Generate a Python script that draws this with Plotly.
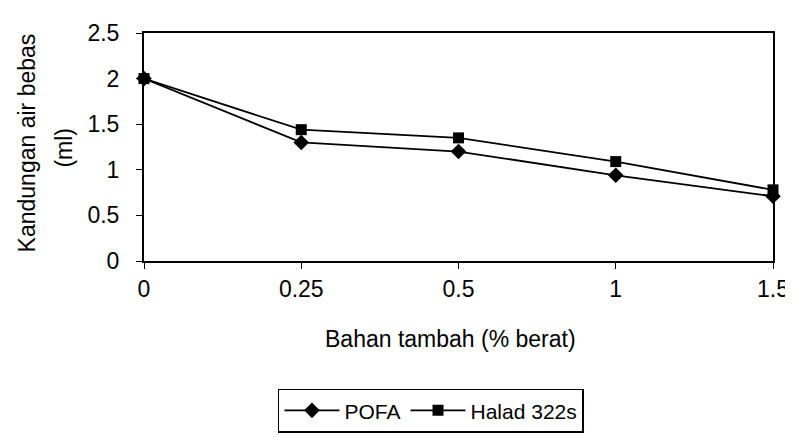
import plotly.graph_objects as go

categories = ["0", "0.25", "0.5", "1", "1.5"]
pofa = [2.0, 1.30, 1.20, 0.94, 0.71]
halad = [2.0, 1.44, 1.35, 1.09, 0.78]
y_ticks = [0, 0.5, 1, 1.5, 2, 2.5]
y_ticktext = ["0", "0.5", "1", "1.5", "2", "2.5"]

FONT = "Liberation Sans, Arial, sans-serif"
FS = 23
idx = list(range(len(categories)))

fig = go.Figure()
fig.add_trace(go.Scatter(x=idx, y=pofa, name="POFA", mode="lines+markers",
                         line=dict(color="black", width=1.8),
                         marker=dict(symbol="diamond", size=12, color="black"),
                         cliponaxis=False))
fig.add_trace(go.Scatter(x=idx, y=halad, name="Halad 322s", mode="lines+markers",
                         line=dict(color="black", width=1.8),
                         marker=dict(symbol="square", size=11, color="black"),
                         cliponaxis=False))

fig.update_layout(
    width=793, height=437,
    margin=dict(l=136, r=19, t=19, b=179),
    paper_bgcolor="white", plot_bgcolor="white",
    font=dict(family=FONT, size=FS, color="black"),
    showlegend=True,
    legend=dict(orientation="h", x=0.213, y=-0.56, xanchor="left", yanchor="top",
                bordercolor="black", borderwidth=1.5, itemwidth=55,
                font=dict(size=21, family=FONT), bgcolor="white",
                tracegroupgap=0),
)
fig.update_xaxes(range=[0, 4], tickvals=idx, ticktext=categories,
                 showline=True, linecolor="black", linewidth=2, mirror=True,
                 ticks="outside", ticklen=6, tickcolor="black", showgrid=False,
                 zeroline=False, tickfont=dict(size=FS))
fig.update_yaxes(range=[0, 2.5], tickvals=y_ticks, ticktext=y_ticktext,
                 showline=True, linecolor="black", linewidth=2, mirror=True,
                 ticks="outside", ticklen=6, tickcolor="black", showgrid=False,
                 zeroline=False, tickfont=dict(size=FS), ticklabelstandoff=12)

fig.add_annotation(text="Bahan tambah (% berat)", xref="paper", yref="paper",
                   x=(447 - 136) / 638, y=(258 - 340) / 239,
                   showarrow=False, font=dict(size=FS, family=FONT),
                   xanchor="center", yanchor="middle")
fig.add_annotation(text="Kandungan air bebas", xref="paper", yref="paper",
                   x=-(136 - 17) / 638, y=(258 - 134) / 239, textangle=-90,
                   showarrow=False, font=dict(size=FS, family=FONT),
                   xanchor="center", yanchor="middle")
fig.add_annotation(text="(ml)", xref="paper", yref="paper",
                   x=-(136 - 55) / 638, y=(258 - 139) / 239, textangle=-90,
                   showarrow=False, font=dict(size=FS, family=FONT),
                   xanchor="center", yanchor="middle")

fig.write_html("out.html")
